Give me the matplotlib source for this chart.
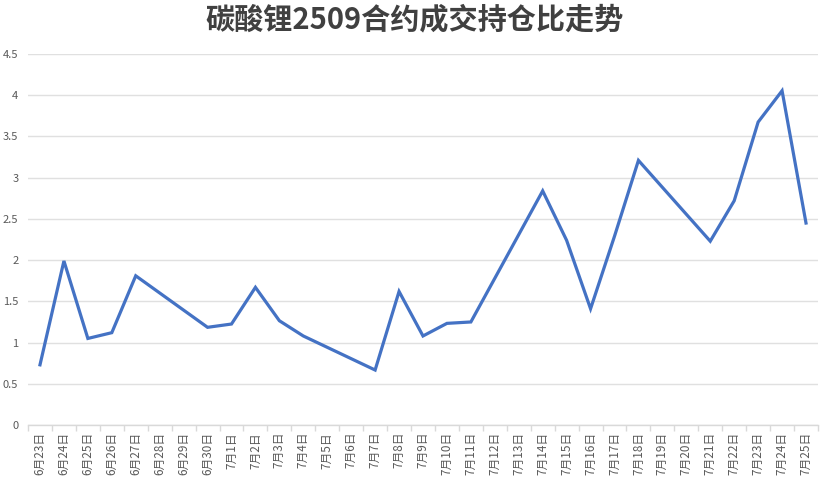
import numpy as np
import matplotlib
matplotlib.use("Agg")
import matplotlib.pyplot as plt

plt.rcParams['font.family'] = ['Noto Sans CJK SC', 'DejaVu Sans']

# 日期（含周末，周末无数据）
dates = ['6月23日', '6月24日', '6月25日', '6月26日', '6月27日', '6月28日', '6月29日', '6月30日',
         '7月1日', '7月2日', '7月3日', '7月4日', '7月5日', '7月6日', '7月7日', '7月8日',
         '7月9日', '7月10日', '7月11日', '7月12日', '7月13日', '7月14日', '7月15日', '7月16日',
         '7月17日', '7月18日', '7月19日', '7月20日', '7月21日', '7月22日', '7月23日', '7月24日',
         '7月25日']
ratio = [0.73, 1.99, 1.05, 1.12, 1.81, np.nan, np.nan, 1.185,
         1.225, 1.67, 1.265, 1.08, np.nan, np.nan, 0.667, 1.62,
         1.08, 1.233, 1.25, np.nan, np.nan, 2.84, 2.24, 1.41,
         2.29, 3.21, np.nan, np.nan, 2.23, 2.72, 3.675, 4.055,
         2.45]
yticks = [0, 0.5, 1, 1.5, 2, 2.5, 3, 3.5, 4, 4.5]
ytick_labels = ['0', '0.5', '1', '1.5', '2', '2.5', '3', '3.5', '4', '4.5']

title = '碳酸锂2509合约成交持仓比走势'

fig = plt.figure(figsize=(8.29, 4.87), dpi=100)
ax = fig.add_axes([0.0338, 0.1273, 0.9529, 0.7617])

x = np.arange(len(dates))
y = np.array(ratio, dtype=float)
ok = ~np.isnan(y)
ax.plot(x[ok], y[ok], color='#4472C4', lw=2.3, solid_joinstyle='miter', zorder=3)

ax.set_xlim(-0.5, len(dates) - 0.5)
ax.set_ylim(0, 4.5)

ax.set_yticks(yticks)
ax.set_yticklabels(ytick_labels)
ax.yaxis.grid(True, color='#e0e0e0', lw=1)
ax.set_axisbelow(True)

ax.set_xticks(x)
ax.set_xticklabels(dates, rotation=90, va='top')
ax.set_xticks(np.arange(len(dates) + 1) - 0.5, minor=True)
ax.tick_params(axis='x', which='major', length=0, pad=5, labelsize=8.5, labelcolor='#595959')
ax.tick_params(axis='x', which='minor', length=4, color='#d9d9d9', width=1)
ax.tick_params(axis='y', length=0, pad=7, labelsize=8, labelcolor='#595959')

for s in ['top', 'right', 'left']:
    ax.spines[s].set_visible(False)
ax.spines['bottom'].set_color('#d9d9d9')
ax.spines['bottom'].set_linewidth(1)

fig.text(0.5, 0.96, title, ha='center', va='center', fontsize=21,
         fontweight='bold', color='#404040')

fig.savefig('out.png', dpi=100)
